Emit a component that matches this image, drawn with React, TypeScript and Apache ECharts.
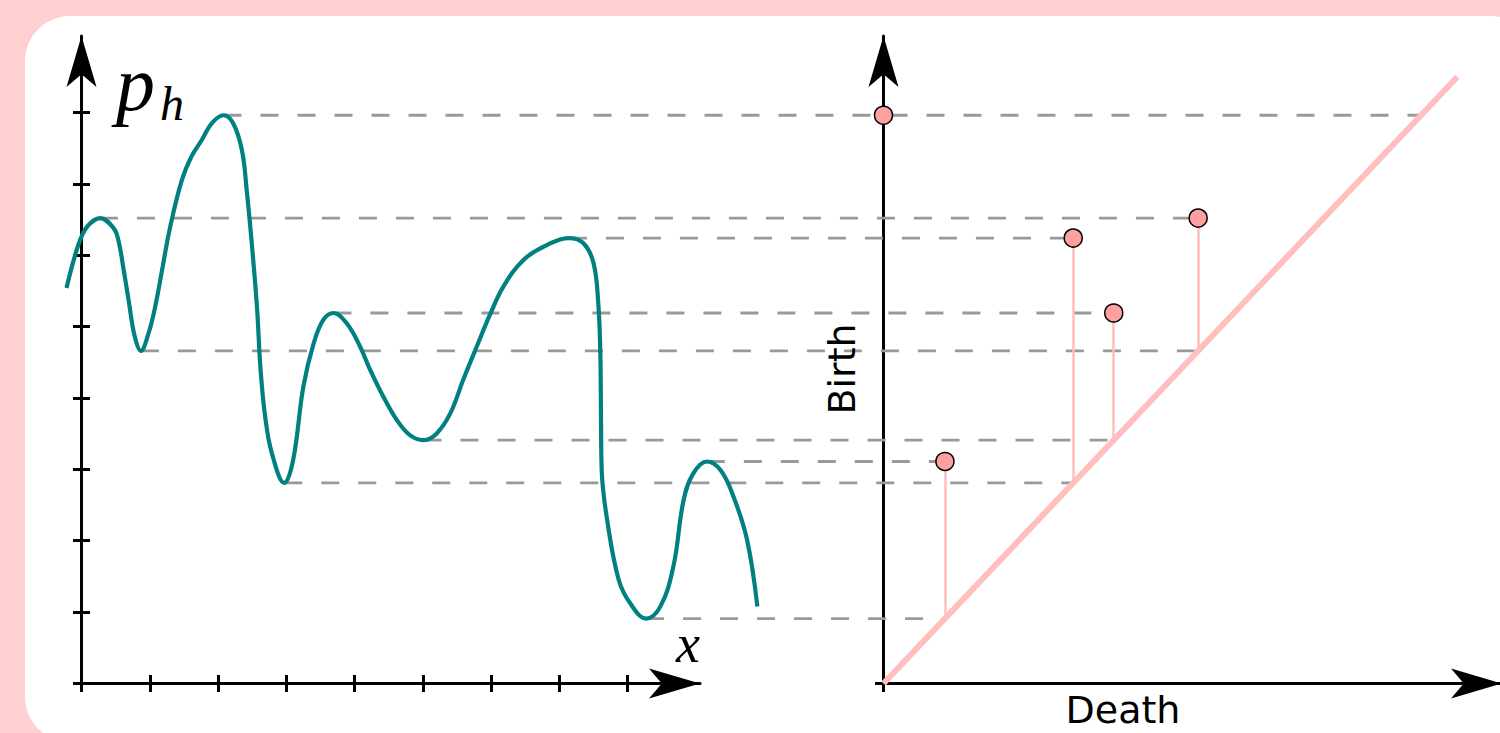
import { useEffect, useRef } from "react";
import * as echarts from "echarts";

// Smoothed density estimate p_h(x), sampled along x
const densityCurve: [number, number][] = [
  [-0.22, 5.54], [-0.10, 5.98], [0.00, 6.26], [0.10, 6.42], [0.27, 6.52],
  [0.47, 6.38], [0.54, 6.21], [0.61, 5.84], [0.69, 5.37], [0.78, 4.86],
  [0.87, 4.66], [0.98, 4.90], [1.08, 5.28], [1.18, 5.79], [1.30, 6.40],
  [1.47, 7.05], [1.61, 7.38], [1.76, 7.61], [1.91, 7.85], [2.08, 7.96],
  [2.22, 7.85], [2.35, 7.47], [2.42, 6.91], [2.49, 6.21], [2.57, 5.28],
  [2.62, 4.44], [2.69, 3.74], [2.79, 3.22], [2.97, 2.81], [3.10, 3.13],
  [3.25, 4.16], [3.40, 4.76], [3.54, 5.09], [3.69, 5.19], [3.89, 5.04],
  [4.08, 4.72], [4.23, 4.39], [4.42, 4.02], [4.62, 3.69], [4.81, 3.48],
  [5.01, 3.41], [5.20, 3.50], [5.40, 3.78], [5.59, 4.25], [5.79, 4.72],
  [5.99, 5.18], [6.18, 5.56], [6.47, 5.93], [6.77, 6.12], [7.01, 6.22],
  [7.14, 6.24], [7.35, 6.17], [7.50, 5.89], [7.57, 5.32], [7.60, 4.62],
  [7.61, 3.69], [7.62, 2.99], [7.70, 2.29], [7.87, 1.45], [8.04, 1.12],
  [8.27, 0.91], [8.48, 1.08], [8.67, 1.64], [8.82, 2.57], [8.96, 2.94],
  [9.16, 3.11], [9.36, 2.99], [9.55, 2.62], [9.75, 2.01], [9.90, 1.08],
];

// Persistence pairs: each local maximum (birth) merges at a valley (death)
const peakX = [2.08, 0.27, 7.14, 3.69, 9.16];
const birthLevels = [7.96, 6.52, 6.24, 5.19, 3.11];
const valleyX: (number | null)[] = [null, 0.87, 2.97, 5.01, 8.27];
const deathLevels = [0, 4.66, 2.81, 3.41, 0.91];

// Tick marks on the density plot; the diagram only marks its origin
const densityTicks = [0, 1, 2, 3, 4, 5, 6, 7, 8];
const diagramTicks = [0];
const diagonalEnd = 8.5;

// Axis extents (the arrow tips sit at the ends)
const densityXMax = 9.06;
const levelMax = 9.07;
const diagramXMax = 9.16;
// The curve runs a little past both ends of the x axis
const curveXMin = -0.5;
const curveXMax = 10.2;

const AXIS_COLOR = "#000";
const DASH_COLOR = "#999999";
const PINK_LINE = "#ffbfbf";
const PINK_POINT = "#ffa0a0";

// Layout of the two panels, in pixels
const TOP = 36;
const BOTTOM = 49.5;
const LEFT_A = 81.5;
const WIDTH_A = 618.5;
const LEFT_B = 883.5;
const WIDTH_B = 618.5;

function axisPair(
  dim: "x" | "y",
  gridIndex: number,
  max: number,
  ticks: number[]
) {
  const lineStyle = { color: AXIS_COLOR, width: 3 };
  const base = {
    gridIndex,
    type: "value",
    min: 0,
    max,
    position: dim === "x" ? "bottom" : "left",
    axisLabel: { show: false },
    splitLine: { show: false },
  };
  return [
    {
      ...base,
      axisLine: {
        show: true,
        onZero: false,
        symbol: ["none", "arrow"],
        symbolSize: [22.5, 51],
        lineStyle,
      },
      axisTick: { show: true, customValues: ticks, length: 8.5, lineStyle },
    },
    {
      ...base,
      axisLine: { show: false, onZero: false },
      axisTick: {
        show: true,
        inside: true,
        customValues: ticks,
        length: 8.5,
        lineStyle,
      },
    },
  ];
}

export default function App() {
  const ref = useRef<HTMLDivElement>(null);

  useEffect(() => {
    if (!ref.current) return;
    const chart = echarts.init(ref.current, undefined, { renderer: "svg" });

    const points = birthLevels.map((b, i) => [deathLevels[i], b]);
    const stems = birthLevels
      .map((b, i) => ({ d: deathLevels[i], b, i }))
      .filter((p) => valleyX[p.i] !== null)
      .map((p) => ({ coords: [[p.d, p.b], [p.d, p.d]] }));

    // Hidden grid sharing the left panel's scale, wide enough for the whole curve
    const unitA = WIDTH_A / densityXMax;
    const curveGrid = {
      left: LEFT_A + curveXMin * unitA,
      width: (curveXMax - curveXMin) * unitA,
      top: TOP,
      bottom: BOTTOM,
      containLabel: false,
      outerBoundsMode: "none",
    };

    const option: any = {
      animation: false,
      backgroundColor: "#ffd0d0",
      grid: [
        { left: LEFT_A, top: TOP, width: WIDTH_A, bottom: BOTTOM, containLabel: false, outerBoundsMode: "none" },
        { left: LEFT_B, top: TOP, width: WIDTH_B, bottom: BOTTOM, containLabel: false, outerBoundsMode: "none" },
        curveGrid,
      ],
      xAxis: [
        ...axisPair("x", 0, densityXMax, densityTicks),
        ...axisPair("x", 1, diagramXMax, diagramTicks),
        { gridIndex: 2, type: "value", min: curveXMin, max: curveXMax, show: false },
      ],
      yAxis: [
        ...axisPair("y", 0, levelMax, densityTicks),
        ...axisPair("y", 1, levelMax, diagramTicks),
        { gridIndex: 2, type: "value", min: 0, max: levelMax, show: false },
      ],
      series: [
        {
          type: "line",
          name: "density",
          xAxisIndex: 4,
          yAxisIndex: 4,
          data: densityCurve,
          smooth: 0.4,
          symbol: "none",
          showSymbol: false,
          clip: false,
          lineStyle: { color: "#008080", width: 4.2 },
          z: 3,
        },
        {
          type: "line",
          name: "diagonal",
          xAxisIndex: 2,
          yAxisIndex: 2,
          data: [[0, 0], [diagonalEnd, diagonalEnd]],
          symbol: "none",
          clip: false,
          lineStyle: { color: PINK_LINE, width: 6 },
          z: 2,
        },
        {
          type: "lines",
          name: "persistence",
          coordinateSystem: "cartesian2d",
          xAxisIndex: 2,
          yAxisIndex: 2,
          data: stems,
          lineStyle: { color: PINK_LINE, width: 2.5, opacity: 1 },
          z: 2,
        },
        {
          type: "scatter",
          name: "pairs",
          xAxisIndex: 2,
          yAxisIndex: 2,
          data: points,
          symbolSize: 18,
          clip: false,
          itemStyle: {
            color: PINK_POINT,
            borderColor: "#000",
            borderWidth: 1.5,
            opacity: 1,
          },
          z: 5,
        },
      ],
    };
    chart.setOption(option);

    // Dashed guides joining each extremum of the curve to its place in the diagram
    const left = (p: number[]) => chart.convertToPixel({ seriesIndex: 0 }, p) as number[];
    const right = (p: number[]) => chart.convertToPixel({ seriesIndex: 1 }, p) as number[];
    const guides: any[] = [];
    const dashed = (a: number[], b: number[]) => ({
      type: "line",
      shape: { x1: a[0], y1: a[1], x2: b[0], y2: b[1] },
      style: { stroke: DASH_COLOR, lineWidth: 2.8, lineDash: [18, 19] },
      silent: true,
      z: 1,
    });
    birthLevels.forEach((b, i) => {
      const essential = valleyX[i] === null;
      const end = essential ? [b, b] : [deathLevels[i], b];
      guides.push(dashed(left([peakX[i], b]), right(end)));
      const vx = valleyX[i];
      if (vx !== null) {
        const d = deathLevels[i];
        guides.push(dashed(left([vx, d]), right([d, d])));
      }
    });

    const mathFont = { fontFamily: "Liberation Serif", fontStyle: "italic", fill: "#000" };
    const sansFont = { fontFamily: "DejaVu Sans", fontSize: 38, fill: "#000" };

    chart.setOption({
      graphic: [
        {
          elements: [
            {
              type: "rect",
              shape: { x: 25, y: 16, width: 1510, height: 726, r: 45 },
              style: { fill: "#ffffff" },
              silent: true,
              z: -10,
            },
            ...guides,
            {
              type: "text",
              x: 116,
              y: 83,
              style: { ...mathFont, text: "p", fontSize: 78, align: "left", verticalAlign: "middle" },
              z: 5,
            },
            {
              type: "text",
              x: 160,
              y: 103,
              style: { ...mathFont, text: "h", fontSize: 48, align: "left", verticalAlign: "middle" },
              z: 5,
            },
            {
              type: "text",
              x: 688,
              y: 644,
              style: { ...mathFont, text: "x", fontSize: 54, align: "center", verticalAlign: "middle" },
              z: 5,
            },
            {
              type: "text",
              x: 842,
              y: 369,
              rotation: Math.PI / 2,
              style: { ...sansFont, text: "Birth", align: "center", verticalAlign: "middle" },
              z: 5,
            },
            {
              type: "text",
              x: 1123,
              y: 710,
              style: { ...sansFont, text: "Death", align: "center", verticalAlign: "middle" },
              z: 5,
            },
          ],
        },
      ],
    });

    return () => chart.dispose();
  }, []);

  return (
    <div
      ref={ref}
      style={{ position: "fixed", left: 0, top: 0, width: 1500, height: 733 }}
    />
  );
}
